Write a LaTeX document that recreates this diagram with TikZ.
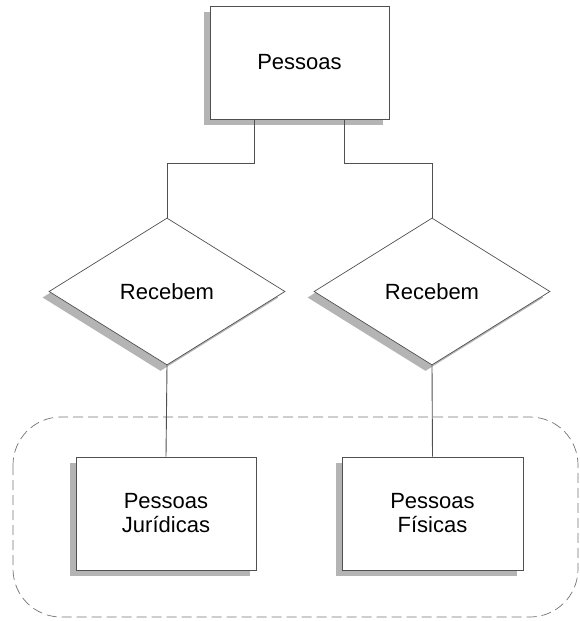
\documentclass[tikz,border=0pt]{standalone}
\usepackage{fontspec}
\setmainfont{Liberation Sans}
\usetikzlibrary{shapes.geometric,shadows}
\definecolor{edgegray}{HTML}{505050}
\definecolor{shadegray}{HTML}{B4B4B4}
\tikzset{
  shaded/.style={drop shadow={shadow xshift=-6pt, shadow yshift=-6pt, fill=shadegray, opacity=1}},
  entity/.style={draw=edgegray, fill=white, line width=0.9pt, shaded, inner sep=0pt,
    align=center, font=\fontsize{22}{24}\selectfont},
  relation/.style={diamond, draw=edgegray, fill=white, line width=0.7pt,
    drop shadow={shadow xshift=-6.5pt, shadow yshift=-6pt, fill=shadegray, opacity=1},
    inner sep=0pt, minimum width=236pt, minimum height=147pt, font=\fontsize{22}{27}\selectfont},
  link/.style={draw=edgegray, line width=0.9pt},
  group/.style={draw=edgegray!80, line width=0.7pt, dash pattern=on 10pt off 5pt, rounded corners=48pt}
}
\begin{document}
\begin{tikzpicture}[x=1pt,y=-1pt]
  \useasboundingbox (0,0) rectangle (579,621);
  % grouping of the specialised entities
  \draw[group] (13,417) rectangle (578,617);
  % entities
  \node[entity, minimum width=179pt, minimum height=113pt] (top) at (299.5,62.5) {Pessoas};
  \node[relation] (d1) at (167,291.5) {Recebem};
  \node[relation] (d2) at (432,291.5) {Recebem};
  \node[entity, minimum width=180pt, minimum height=113pt] (b1) at (166,513.5) {Pessoas\\Jurídicas};
  \node[entity, minimum width=181pt, minimum height=113pt] (b2) at (432.5,513.5) {Pessoas\\Físicas};
  % connectors
  \draw[link] ([xshift=-45.5pt]top.south) -- ++(0,44) -| (d1.north);
  \draw[link] ([xshift=44.5pt]top.south) -- ++(0,44) -| (d2.north);
  \draw[link] (d1.south) -- (b1.north);
  \draw[link] (d2.south) -- (b2.north);
\end{tikzpicture}
\end{document}
